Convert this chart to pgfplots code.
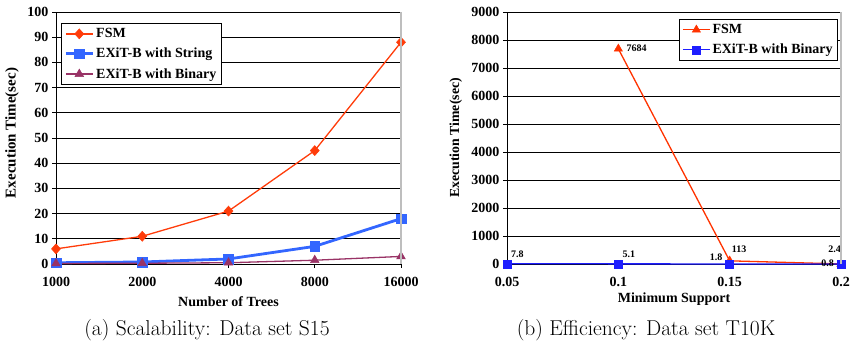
\documentclass[border=0pt]{standalone}
\usepackage{fontspec}
\usepackage{pgfplots}
\pgfplotsset{compat=1.18}
\usepackage{pgfplotstable}
\newfontfamily\chartfont{Liberation Serif}
\definecolor{fsmL}{RGB}{255,60,10}
\definecolor{strL}{RGB}{51,102,255}
\definecolor{binL}{RGB}{153,51,102}
\definecolor{fsmR}{RGB}{255,51,0}
\definecolor{binR}{RGB}{30,30,255}
\definecolor{bordergray}{RGB}{190,190,190}

\pgfplotstableread{
x fsm str bin
0 6 0.5 0.2
1 11 0.8 0.3
2 21 2.0 0.5
3 45 7.0 1.5
4 88 18.0 3.0
}\leftdata

\pgfplotstableread{
x y
1 7684
2 113
3 2.4
}\rfsm

\pgfplotstableread{
x y
0 7.8
1 5.1
2 1.8
3 0.8
}\rbin

\pgfplotsset{
  common/.style={
    scale only axis,
    axis x line*=bottom, axis y line*=left,
    axis line style={black, line width=0.8pt, -},
    ymajorgrids, grid style={black, line width=0.7pt},
    tick align=outside, major tick length=4pt,
    tick style={black, line width=0.8pt},
    ticklabel style={font=\chartfont\bfseries\fontsize{14}{16}\selectfont},
    xticklabel style={yshift=-6pt},
    /pgf/number format/assume math mode=true,
    /pgf/number format/1000 sep={},
    label style={font=\chartfont\bfseries\fontsize{14}{16}\selectfont},
    clip=false,
    legend cell align=left,
    legend image code/.code={\draw[mark repeat=2,mark phase=2,##1] plot coordinates {(0pt,0pt) (13.5pt,0pt) (27pt,0pt)};},
    legend style={draw=black, line width=0.8pt,
      font=\chartfont\bfseries\fontsize{14}{16}\selectfont,
      row sep=5pt, inner xsep=3pt, inner ysep=3pt},
    extra description/.code={\draw[bordergray, line width=1.5pt] (rel axis cs:1,0) -- (rel axis cs:1,1);},
  },
  lab/.style n args={3}{draw=none, forget plot, nodes near coords, point meta=explicit symbolic,
    every node near coord/.append style={font=\chartfont\bfseries\fontsize{10}{11}\selectfont, text=black, inner sep=1pt, anchor=#1, xshift=#2, yshift=#3}},
}

\begin{document}
\begin{tikzpicture}
\useasboundingbox (0,0) rectangle (850pt,342pt);
\begin{axis}[common,
  at={(56pt,78pt)}, anchor=south west,
  width=345pt, height=252pt,
  xmin=0, xmax=4, ymin=0, ymax=100,
  ytick={0,10,...,100},
  xtick={0,1,2,3,4}, xticklabels={1000,2000,4000,8000,16000},
  xlabel={Number of Trees},
  ylabel={Execution Time(sec)},
  xlabel style={at={(axis description cs:0.5,-0.149)}, anchor=center},
  ylabel style={at={(axis description cs:-0.1275,0.52)}, anchor=center, font=\chartfont\bfseries\fontsize{15}{17}\selectfont},
  legend style={at={(rel axis cs:0.0145,0.956)}, anchor=north west},
]
\addplot[fsmL, line width=1.3pt, mark=diamond*, mark size=5pt, mark options={solid, xscale=1.2, fill=fsmL, draw=fsmL, line width=0.5pt}] table[x=x, y=fsm] {\leftdata};
\addlegendentry{FSM}
\addplot[strL, line width=2.8pt, mark=square*, mark size=4.8pt, mark options={solid, fill=strL, draw=strL, line width=0.5pt}] table[x=x, y=str] {\leftdata};
\addlegendentry{EXiT-B with String}
\addplot[binL, line width=1.3pt, mark=triangle*, mark size=5pt, mark options={solid, fill=binL, draw=binL, line width=0.5pt}] table[x=x, y=bin] {\leftdata};
\addlegendentry{EXiT-B with Binary}
\end{axis}

\begin{axis}[common,
  at={(507pt,78pt)}, anchor=south west,
  width=334pt, height=252pt,
  xmin=0, xmax=3, ymin=0, ymax=9000,
  ytick={0,1000,...,9000},
  xtick={0,1,2,3}, xticklabels={0.05,0.1,0.15,0.2},
  xlabel={Minimum Support},
  ylabel={Execution Time(sec)},
  xlabel style={at={(axis description cs:0.5,-0.141)}, anchor=center},
  ylabel style={at={(axis description cs:-0.153,0.5)}, anchor=center, font=\chartfont\bfseries\fontsize{13.8}{16}\selectfont},
  legend style={at={(rel axis cs:0.991,0.972)}, anchor=north east},
]
\addplot[fsmR, line width=1.3pt, mark=triangle*, mark size=4.8pt, mark options={solid, fill=fsmR, draw=fsmR, line width=0.5pt}] table[x=x, y=y] {\rfsm};
\addlegendentry{FSM}
\addplot[binR, line width=1.3pt, mark=square*, mark size=4pt, mark options={solid, fill=binR, draw=binR, line width=0.5pt}] table[x=x, y=y] {\rbin};
\addlegendentry{EXiT-B with Binary}
\addplot[lab={west}{7pt}{1pt}] coordinates {(1,7684) [7684]};
\addplot[lab={south west}{1pt}{7.5pt}] coordinates {(2,113) [113]};
\addplot[lab={south east}{1pt}{10.5pt}] coordinates {(3,2.4) [2.4]};
\addplot[lab={south west}{3pt}{5pt}] coordinates {(0,7.8) [7.8] (1,5.1) [5.1]};
\addplot[lab={south east}{-6pt}{2pt}] coordinates {(2,1.8) [1.8]};
\addplot[lab={east}{-6pt}{1pt}] coordinates {(3,0.8) [0.8]};
\end{axis}

\node[anchor=base, font=\fontsize{21.5}{25}\selectfont] at (207pt,6pt) {(a) Scalability: Data set S15};
\node[anchor=base, font=\fontsize{21.5}{25}\selectfont] at (646pt,6pt) {(b) Efficiency: Data set T10K};
\end{tikzpicture}
\end{document}
